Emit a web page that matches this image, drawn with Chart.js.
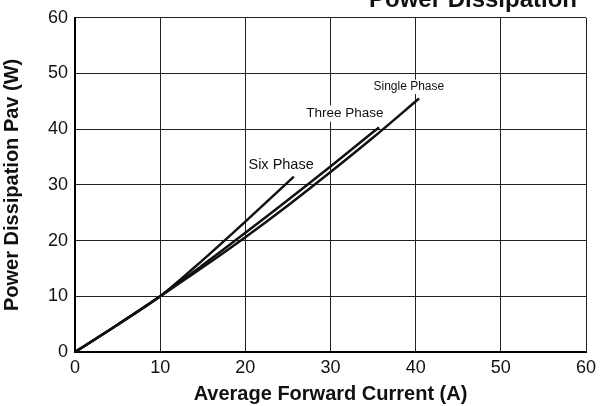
<!DOCTYPE html>
<html>
<head>
<meta charset="utf-8">
<script src="https://cdn.jsdelivr.net/npm/chart.js@4"></script>
<style>
html,body{margin:0;padding:0;background:#fff;}
#wrap{width:613px;height:406px;position:relative;}
</style>
</head>
<body>
<div id="wrap"><canvas id="c" width="613" height="406"></canvas></div>
<script>
const xTicks = [0, 10, 20, 30, 40, 50, 60];
const yTicks = [0, 10, 20, 30, 40, 50, 60];

const singleCurrent = [0, 5, 10, 15, 20, 25, 30, 35, 40.4];
const singlePower   = [0, 4.9, 10, 15.2, 20.6, 26.3, 32.3, 38.5, 45.5];

const threeCurrent = [0, 5, 10, 15, 20, 25, 30, 35, 35.7];
const threePower   = [0, 4.9, 10, 15.6, 21.4, 27.3, 33.3, 39.5, 40.3];

const sixCurrent = [0, 5, 10, 15, 20, 25.7];
const sixPower   = [0, 4.9, 10, 16.5, 23.4, 31.5];

const seriesNames = ['Single Phase', 'Three Phase', 'Six Phase'];

function pts(xs, ys){ return xs.map((x,i)=>({x:x, y:ys[i]})); }

const curveLabels = [
  {text: seriesNames[0], x: 39.2, y: 47.6, size: 12},
  {text: seriesNames[1], x: 31.7, y: 42.8, size: 13.5},
  {text: seriesNames[2], x: 24.2, y: 33.6, size: 14.5}
];

const labelPlugin = {
  id: 'curveLabels',
  afterDatasetsDraw(chart){
    const ctx = chart.ctx;
    const xs = chart.scales.x, ys = chart.scales.y;
    ctx.save();
    ctx.textAlign = 'center';
    ctx.textBaseline = 'middle';
    curveLabels.forEach(l=>{
      ctx.font = l.size + 'px "Liberation Sans", Arial, sans-serif';
      const px = xs.getPixelForValue(l.x), py = ys.getPixelForValue(l.y);
      const w = ctx.measureText(l.text).width;
      ctx.fillStyle = '#fff';
      ctx.fillRect(px - w/2 - 2, py - l.size*0.6, w + 4, l.size*1.2);
      ctx.fillStyle = '#111';
      ctx.fillText(l.text, px, py);
    });
    ctx.restore();
  },
  afterDraw(chart){
    const ctx = chart.ctx;
    ctx.save();
    ctx.font = 'bold 24px "Liberation Sans", Arial, sans-serif';
    ctx.textAlign = 'right';
    ctx.textBaseline = 'alphabetic';
    ctx.fillStyle = '#111';
    ctx.fillText('Power Dissipation', 577, 7);
    ctx.restore();
  }
};

const lineStyle = {borderColor:'#111', borderWidth:2.5, pointRadius:0, fill:false, showLine:true, tension:0.3};

new Chart(document.getElementById('c'), {
  type: 'scatter',
  data: {
    datasets: [
      Object.assign({label: seriesNames[0], data: pts(singleCurrent, singlePower)}, lineStyle),
      Object.assign({label: seriesNames[1], data: pts(threeCurrent, threePower)}, lineStyle),
      Object.assign({label: seriesNames[2], data: pts(sixCurrent, sixPower)}, lineStyle)
    ]
  },
  plugins: [labelPlugin],
  options: {
    responsive: false,
    animation: false,
    layout: {padding: {top: 13, right: 27, left: 0, bottom: 0}},
    plugins: {legend: {display:false}, tooltip: {enabled:false}, title: {display:false}},
    scales: {
      x: {
        type: 'linear', min: 0, max: 60,
        afterBuildTicks(s){ s.ticks = xTicks.map(v=>({value:v})); },
        afterFit(s){ s.height = 54; },
        grid: {color:'#222', lineWidth:1, drawTicks:false},
        border: {color:'#000', width:2},
        ticks: {color:'#111', padding:5, font:{family:'"Liberation Sans", Arial, sans-serif', size:18}, maxRotation:0},
        title: {display:true, text:'Average Forward Current (A)', color:'#111', padding:{top:0,bottom:0}, font:{family:'"Liberation Sans", Arial, sans-serif', size:20, weight:'bold'}}
      },
      y: {
        type: 'linear', min: 0, max: 60,
        afterBuildTicks(s){ s.ticks = yTicks.map(v=>({value:v})); },
        afterFit(s){ s.width = 75; },
        grid: {color:'#222', lineWidth:1, drawTicks:false},
        border: {color:'#000', width:2},
        ticks: {color:'#111', padding:7, font:{family:'"Liberation Sans", Arial, sans-serif', size:18}},
        title: {display:true, text:'Power Dissipation Pav (W)', color:'#111', padding:{top:0,bottom:2}, font:{family:'"Liberation Sans", Arial, sans-serif', size:20, weight:'bold'}}
      }
    }
  }
});
</script>
</body>
</html>
